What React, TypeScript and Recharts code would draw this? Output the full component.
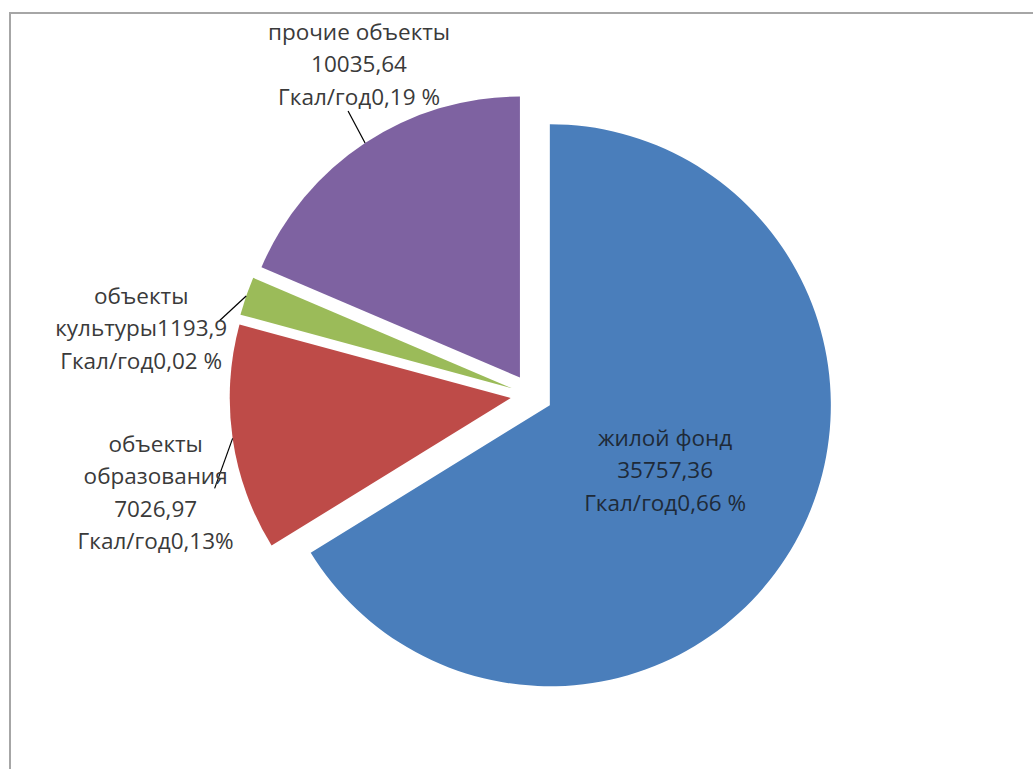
import React from 'react';
import { PieChart, Pie, Cell } from 'recharts';

// ---- data ----
const categories = ['жилой фонд', 'объекты образования', 'объекты культуры', 'прочие объекты'];
const values = [35757.36, 7026.97, 1193.9, 10035.64];
const percentLabels = ['0,66 %', '0,13%', '0,02 %', '0,19 %'];
const unit = 'Гкал/год';
const colors = ['#4A7EBB', '#BE4B48', '#9BBB59', '#7E62A1'];

// label line breaks as they appear in the chart
const fmt = (v: number) => String(v).replace('.', ',');
const labelLines: string[][] = [
  ['жилой фонд', fmt(values[0]), unit + percentLabels[0]],
  ['объекты', 'образования', fmt(values[1]), unit + percentLabels[1]],
  ['объекты', 'культуры' + fmt(values[2]), unit + percentLabels[2]],
  ['прочие объекты', fmt(values[3]), unit + percentLabels[3]],
];

const data = categories.map((name, i) => ({ name, value: values[i] }));

// ---- layout / style ----
const W = 1033;
const H = 769;
const CX = 531.5;
const CY = 395;
const R = 281;
const EXPLODE = 21;
const FONT = '"Open Sans", "Noto Sans", sans-serif';
const FONT_SIZE = 22.5;
const LINE_H = 32.5;
const RAD = Math.PI / 180;

// label placement relative to the slice's outer edge point at mid angle
// inside: radial fraction; outside: text center offset + leader end offset
const labelLayout = [
  { inside: true, frac: 0.47 },
  { inside: false, tx: -77, ty: 5, lx: -18, ly: 50 },
  { inside: false, tx: -105, ty: -1, lx: -27, ly: 25 },
  { inside: false, tx: -6, ty: -112, lx: -17, ly: -32 },
];

const total = values.reduce((a, b) => a + b, 0);
const midAngles = values.map((v, i) => {
  const before = values.slice(0, i).reduce((a, b) => a + b, 0);
  return 90 - (360 * (before + v / 2)) / total;
});

const makeLabel = (k: number) => (props: any) => {
  const { index, cx, cy, midAngle, outerRadius } = props;
  if (index !== k) return null;
  const cos = Math.cos(-midAngle * RAD);
  const sin = Math.sin(-midAngle * RAD);
  const lines = labelLines[k];
  const lay: any = labelLayout[k];
  let x: number;
  let y0: number;
  let leader: React.ReactNode = null;
  if (lay.inside) {
    x = cx + outerRadius * lay.frac * cos;
    const yc = cy + outerRadius * lay.frac * sin;
    y0 = yc - ((lines.length - 1) * LINE_H) / 2;
  } else {
    const ex = cx + outerRadius * cos;
    const ey = cy + outerRadius * sin;
    x = ex + lay.tx;
    y0 = ey + lay.ty;
    leader = (
      <line x1={ex} y1={ey} x2={ex + lay.lx} y2={ey + lay.ly} stroke="#000" strokeWidth={1.2} />
    );
  }
  return (
    <g key={'lbl' + k}>
      {leader}
      <text
        x={x}
        y={y0}
        textAnchor="middle"
        fontFamily={FONT}
        fontSize={FONT_SIZE}
        fill={lay.inside ? '#1e2a38' : '#3a3a3a'}
      >
        {lines.map((ln, j) => (
          <tspan key={j} x={x} y={y0 + j * LINE_H} dominantBaseline="central">
            {ln}
          </tspan>
        ))}
      </text>
    </g>
  );
};

export default function App() {
  return (
    <div
      style={{
        position: 'absolute',
        left: 0,
        top: 0,
        width: W,
        height: H,
        background: '#fff',
        overflow: 'hidden',
      }}
    >
      <div
        style={{
          position: 'absolute',
          left: 9,
          top: 12,
          width: W,
          height: H,
          borderTop: '2px solid #a6a6a6',
          borderLeft: '2px solid #a6a6a6',
        }}
      />
      <div style={{ position: 'absolute', left: 0, top: 0 }}>
        <PieChart width={W} height={H} margin={{ top: 0, right: 0, bottom: 0, left: 0 }}>
          {values.map((_, k) => (
            <Pie
              key={k}
              data={data}
              dataKey="value"
              nameKey="name"
              cx={CX + EXPLODE * Math.cos(-midAngles[k] * RAD)}
              cy={CY + EXPLODE * Math.sin(-midAngles[k] * RAD)}
              outerRadius={R}
              innerRadius={0}
              startAngle={90}
              endAngle={-270}
              stroke="none"
              isAnimationActive={false}
              label={makeLabel(k)}
              labelLine={false}
            >
              {data.map((_, i) => (
                <Cell key={i} fill={i === k ? colors[i] : 'transparent'} stroke="none" />
              ))}
            </Pie>
          ))}
        </PieChart>
      </div>
    </div>
  );
}
